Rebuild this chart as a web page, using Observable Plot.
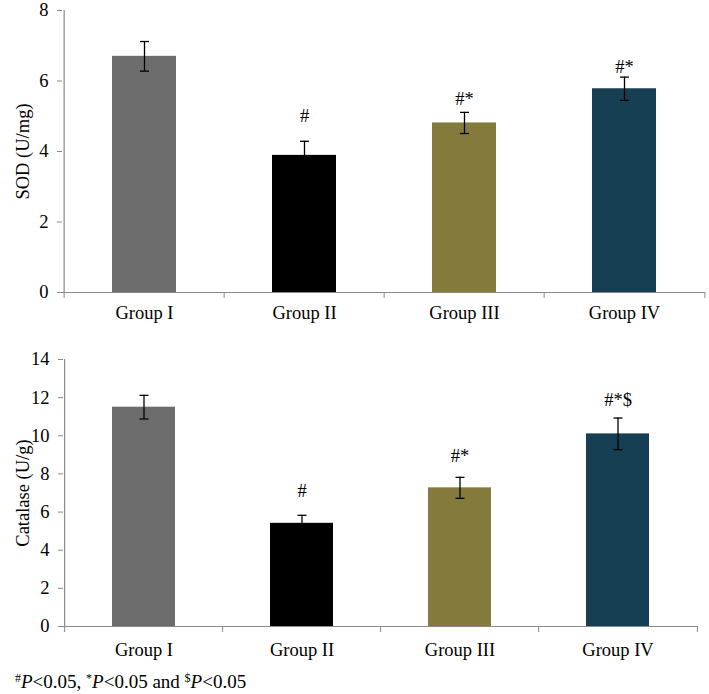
<!DOCTYPE html>
<html>
<head>
<meta charset="utf-8">
<script src="https://cdn.jsdelivr.net/npm/d3@7"></script>
<script src="https://cdn.jsdelivr.net/npm/@observablehq/plot@0.6"></script>
<style>
  body { margin: 0; background: #fff; font-family: "Liberation Serif", serif; }
  #foot { font-size: 19px; line-height: 22px; margin-top: 11px; padding-left: 15px; color: #000; }
  #foot sup { font-size: 12px; vertical-align: 6px; line-height: 0; }
  svg { display: block; }
</style>
</head>
<body>
<div id="top"></div>
<div id="bottom"></div>
<div id="foot"><sup>#</sup><i>P</i>&lt;0.05, <sup>*</sup><i>P</i>&lt;0.05 and <sup>$</sup><i>P</i>&lt;0.05</div>
<script>
const groups = ["Group I", "Group II", "Group III", "Group IV"];
const colors = ["#6d6d6d", "#000000", "#847a3c", "#173f54"];

const sodMean = [6.70, 3.89, 4.81, 5.78];
const sodErr  = [0.42, 0.40, 0.30, 0.33];
const sodSig  = ["", "#", "#*", "#*"];
const sodSigY = [null, 5.0, 5.5, 6.4];
const sodTicks = [0, 2, 4, 6, 8];

const catMean = [11.5, 5.41, 7.27, 10.1];
const catErr  = [0.62, 0.42, 0.55, 0.83];
const catSig  = ["", "#", "#*", "#*$"];
const catSigY = [null, 7.1, 8.95, 11.85];
const catTicks = [0, 2, 4, 6, 8, 10, 12, 14];

const W = 709;
const axisGray = "#8a8a8a";
const FS = 18.5;

// horizontal cap symbol for error bars
const capSymbol = {
  draw(context) {
    context.moveTo(-4.5, 0);
    context.lineTo(4.5, 0);
  }
};

function makeChart({mean, err, sig, sigY, ticks, label, height, mt, mb, ml, mr, xpad}) {
  const rows = groups.map((g, i) => ({g, v: mean[i], lo: mean[i] - err[i], hi: mean[i] + err[i], s: sig[i], sy: sigY[i], c: colors[i]}));
  const step = (W - ml - mr) / groups.length;
  const ymin = ticks[0], ymax = ticks[ticks.length - 1];
  return Plot.plot({
    width: W, height,
    marginTop: mt, marginBottom: mb, marginLeft: ml, marginRight: mr,
    style: {fontFamily: "Liberation Serif, serif", fontSize: FS + "px", color: "#000", background: "#fff", overflow: "visible"},
    x: {domain: groups, paddingInner: 0.6, paddingOuter: 0.3, align: 0.5},
    y: {domain: [ymin, ymax]},
    marks: [
      Plot.barY(rows, {x: "g", y: "v", fill: "c"}),
      Plot.ruleX(rows, {x: "g", y1: "lo", y2: "hi", stroke: "#000", strokeWidth: 1.3}),
      Plot.dot(rows, {x: "g", y: "lo", symbol: capSymbol, stroke: "#000", strokeWidth: 1.3}),
      Plot.dot(rows, {x: "g", y: "hi", symbol: capSymbol, stroke: "#000", strokeWidth: 1.3}),
      Plot.text(rows.filter(d => d.s), {x: "g", y: "sy", text: "s", fill: "#000", fontSize: FS}),
      // axis lines
      Plot.ruleY([ymin], {stroke: axisGray, strokeWidth: 1.2}),
      Plot.ruleX([groups[0]], {x: d => d, y1: ymin, y2: ymax, dx: -step / 2, stroke: axisGray, strokeWidth: 1.2}),
      Plot.axisY({ticks, tickSize: 5, tickPadding: 9, stroke: axisGray, fill: "#000", fontSize: FS,
        label, labelAnchor: "center", labelArrow: "none", labelOffset: ml - 15}),
      Plot.axisX({tickSize: 0, tickPadding: xpad, fill: "#000", fontSize: FS, label: null}),
      Plot.axisX(groups, {tickSize: 6, dx: -step / 2, tickFormat: () => "", stroke: axisGray, label: null}),
      Plot.axisX(groups.slice(-1), {tickSize: 6, dx: step / 2, tickFormat: () => "", stroke: axisGray, label: null})
    ]
  });
}

document.getElementById("top").append(makeChart({
  mean: sodMean, err: sodErr, sig: sodSig, sigY: sodSigY, ticks: sodTicks,
  label: "SOD (U/mg)", height: 342, mt: 10, mb: 50, ml: 62, mr: 4, xpad: 13
}));
document.getElementById("bottom").append(makeChart({
  mean: catMean, err: catErr, sig: catSig, sigY: catSigY, ticks: catTicks,
  label: "Catalase (U/g)", height: 318, mt: 17, mb: 34, ml: 63, mr: 11, xpad: 16
}));
</script>
</body>
</html>
